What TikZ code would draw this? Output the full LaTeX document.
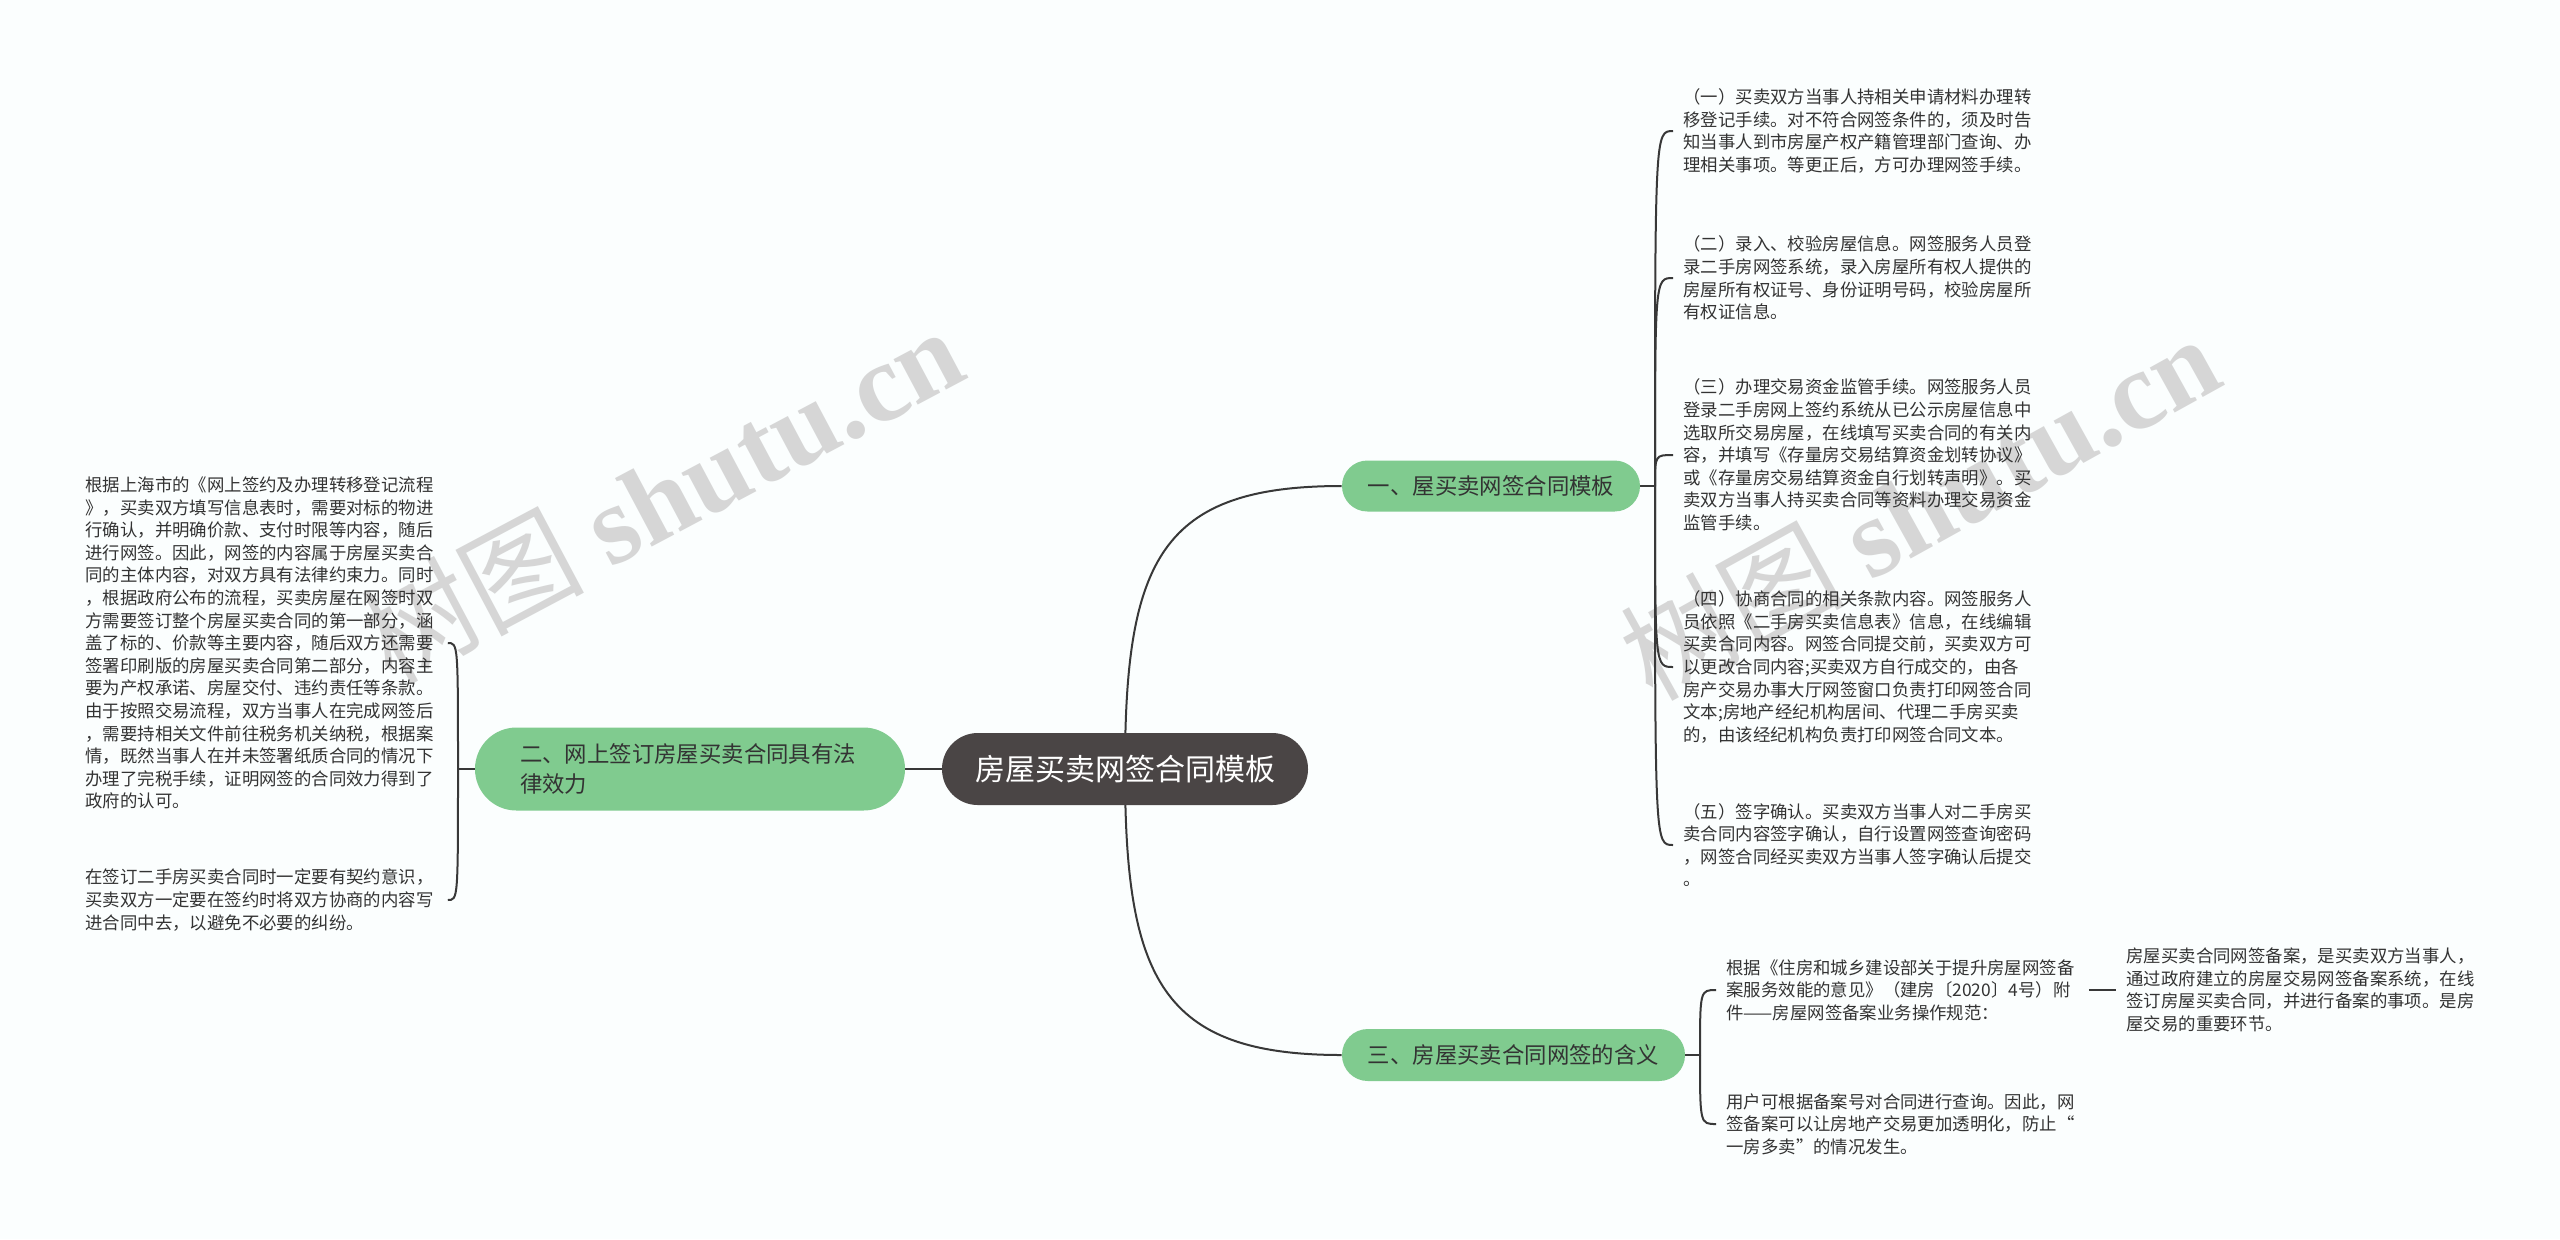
\documentclass[tikz,border=0pt]{standalone}
\usepackage{fontspec}
\setmainfont{Noto Sans CJK SC}
\newfontfamily\wmfont{Liberation Serif}
\usetikzlibrary{calc}
\pgfdeclarelayer{back}
\pgfdeclarelayer{bg}
\pgfsetlayers{back,bg,main}
\definecolor{gfill}{HTML}{80CB8F}
\definecolor{cfill}{HTML}{4A4545}
\definecolor{lcol}{HTML}{383838}
\definecolor{tcol}{HTML}{333333}
\definecolor{bgc}{HTML}{FBFEFE}
\definecolor{wmc}{HTML}{CDCDCD}
\tikzset{
  conn/.style={draw=lcol, line width=1pt},
  txt/.style={anchor=west, align=left, text width=176pt, inner xsep=5pt, inner ysep=0pt,
    font=\fontsize{8.7}{11.3}\selectfont, text=tcol},
  pill/.style={fill=gfill, draw=none, text=tcol, inner sep=0pt,
    font=\fontsize{11.2}{14.7}\selectfont},
  cnode/.style={fill=cfill, draw=none, text=white, inner sep=0pt,
    minimum width=183pt, minimum height=36pt, rounded corners=17.9pt,
    font=\fontsize{15}{18}\selectfont},
  wm/.style={text=wmc, opacity=0.8, inner sep=0pt}
}
\begin{document}
\begin{tikzpicture}[x=0.5pt,y=-0.5pt]
\begin{pgfonlayer}{back}
\fill[bgc] (0,0) rectangle (2560,1239);
\end{pgfonlayer}
\useasboundingbox (0,0) rectangle (2560,1239);

% watermarks
\begin{pgfonlayer}{back}
\node[wm, rotate=28] (wm1) at (661,494) {\fontsize{56}{60}\selectfont 树图 {\wmfont\bfseries shutu.cn}};
\node[wm, rotate=29] (wm2) at (1919,506) {\fontsize{56}{60}\selectfont 树图 {\wmfont\bfseries shutu.cn}};
\end{pgfonlayer}

% main nodes
\node[cnode] (c) at (1125,769) {房屋买卖网签合同模板};
\node[pill, minimum width=149pt, minimum height=25.5pt, rounded corners=12.7pt] (n1) at (1491,486) {一、屋买卖网签合同模板};
\node[pill, minimum width=171.5pt, minimum height=26pt, rounded corners=12.9pt] (n3) at (1513.5,1055) {三、房屋买卖合同网签的含义};
\node[pill, minimum width=215pt, minimum height=41.5pt, rounded corners=20.7pt, text width=170pt, align=left] (n2) at (690,769) {二、网上签订房屋买卖合同具有法\\律效力};

% right texts of node 1
\node[txt] (r1) at (1673,131) {（一）买卖双方当事人持相关申请材料办理转\\移登记手续。对不符合网签条件的，须及时告\\知当事人到市房屋产权产籍管理部门查询、办\\理相关事项。等更正后，方可办理网签手续。};
\node[txt] (r2) at (1673,278) {（二）录入、校验房屋信息。网签服务人员登\\录二手房网签系统，录入房屋所有权人提供的\\房屋所有权证号、身份证明号码，校验房屋所\\有权证信息。};
\node[txt] (r3) at (1673,455) {（三）办理交易资金监管手续。网签服务人员\\登录二手房网上签约系统从已公示房屋信息中\\选取所交易房屋，在线填写买卖合同的有关内\\容，并填写《存量房交易结算资金划转协议》\\或《存量房交易结算资金自行划转声明》。买\\卖双方当事人持买卖合同等资料办理交易资金\\监管手续。};
\node[txt] (r4) at (1673,667) {（四）协商合同的相关条款内容。网签服务人\\员依照《二手房买卖信息表》信息，在线编辑\\买卖合同内容。网签合同提交前，买卖双方可\\以更改合同内容;买卖双方自行成交的，由各\\房产交易办事大厅网签窗口负责打印网签合同\\文本;房地产经纪机构居间、代理二手房买卖\\的，由该经纪机构负责打印网签合同文本。};
\node[txt] (r5) at (1673,845) {（五）签字确认。买卖双方当事人对二手房买\\卖合同内容签字确认，自行设置网签查询密码\\，网签合同经买卖双方当事人签字确认后提交\\。};

% texts of node 3
\node[txt] (ta) at (1716,990) {根据《住房和城乡建设部关于提升房屋网签备\\案服务效能的意见》（建房〔2020〕4号）附\\件——房屋网签备案业务操作规范：};
\node[txt] (tb) at (1716,1124) {用户可根据备案号对合同进行查询。因此，网\\签备案可以让房地产交易更加透明化，防止“\\一房多卖”的情况发生。};
\node[txt] (tc) at (2116,990) {房屋买卖合同网签备案，是买卖双方当事人，\\通过政府建立的房屋交易网签备案系统，在线\\签订房屋买卖合同，并进行备案的事项。是房\\屋交易的重要环节。};

% left texts
\node[txt] (l1) at (75,643) {根据上海市的《网上签约及办理转移登记流程\\》，买卖双方填写信息表时，需要对标的物进\\行确认，并明确价款、支付时限等内容，随后\\进行网签。因此，网签的内容属于房屋买卖合\\同的主体内容，对双方具有法律约束力。同时\\，根据政府公布的流程，买卖房屋在网签时双\\方需要签订整个房屋买卖合同的第一部分，涵\\盖了标的、价款等主要内容，随后双方还需要\\签署印刷版的房屋买卖合同第二部分，内容主\\要为产权承诺、房屋交付、违约责任等条款。\\由于按照交易流程，双方当事人在完成网签后\\，需要持相关文件前往税务机关纳税，根据案\\情，既然当事人在并未签署纸质合同的情况下\\办理了完税手续，证明网签的合同效力得到了\\政府的认可。};
\node[txt] (l2) at (75,900) {在签订二手房买卖合同时一定要有契约意识，\\买卖双方一定要在签约时将双方协商的内容写\\进合同中去，以避免不必要的纠纷。};

\coordinate (b1) at (1655,486);
\coordinate (b2) at (458,769);
\coordinate (b3) at (1700,1055);

\begin{pgfonlayer}{bg}
\draw[conn] (c.west) -- (n2.east);
\draw[conn] (c.center) .. controls +(0,-210) and +(-180,0) .. (n1.west);
\draw[conn] (c.center) .. controls +(0,210) and +(-180,0) .. (n3.west);
\draw[conn] (n1.east) -- (b1);
\foreach \t in {r1,r2,r3,r4,r5}
  \draw[conn] (b1) .. controls ($(b1 |- \t.west)$) and ($(b1 |- \t.west)$) .. (\t.west);
\draw[conn] (n2.west) -- (b2);
\foreach \t in {l1,l2}
  \draw[conn] (b2) .. controls ($(b2 |- \t.east)$) and ($(b2 |- \t.east)$) .. (\t.east);
\draw[conn] (n3.east) -- (b3);
\foreach \t in {ta,tb}
  \draw[conn] (b3) .. controls ($(b3 |- \t.west)$) and ($(b3 |- \t.west)$) .. (\t.west);
\draw[conn] (ta.east) -- (tc.west);
\end{pgfonlayer}
\end{tikzpicture}
\end{document}
